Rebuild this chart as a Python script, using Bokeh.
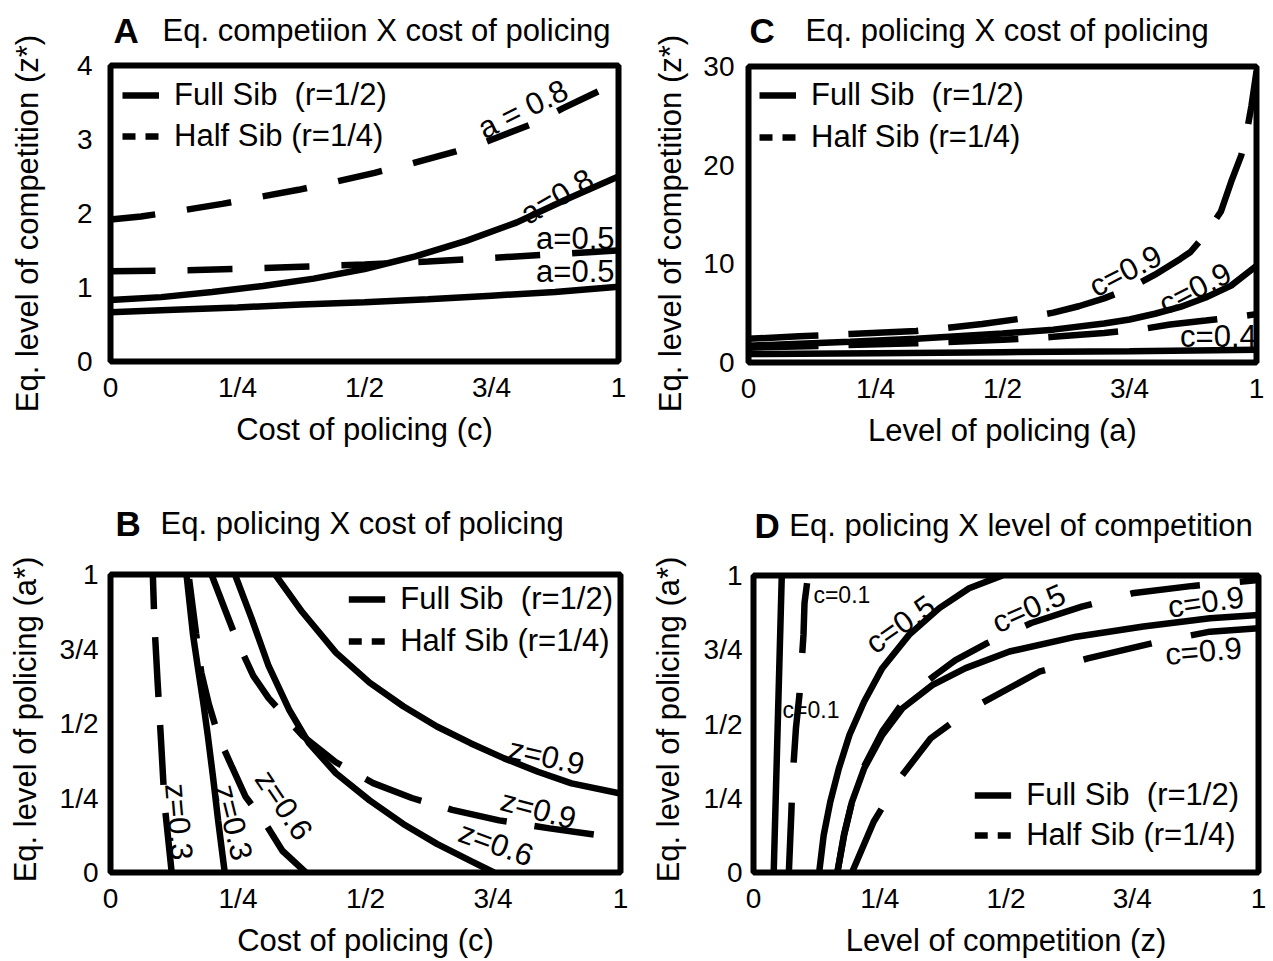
from bokeh.plotting import figure
from bokeh.models import Range1d, FixedTicker, Label, Legend, LegendItem
from bokeh.layouts import row, column
from bokeh.embed import file_html
from bokeh.resources import INLINE

FONT = "Liberation Sans"

# ---------------- data ----------------
frac_ticks = [0, 0.25, 0.5, 0.75, 1]
frac_labels = ["0", "1/4", "1/2", "3/4", "1"]

# Panel A : equilibrium competition z* vs cost of policing c
A_full_a08_c = [0, 0.1, 0.2, 0.3, 0.4, 0.5, 0.6, 0.7, 0.8, 0.9, 1.0]
A_full_a08_z = [0.83, 0.87, 0.94, 1.02, 1.12, 1.25, 1.42, 1.63, 1.88, 2.20, 2.50]
A_full_a05_c = [0, 0.125, 0.25, 0.375, 0.5, 0.625, 0.75, 0.875, 1.0]
A_full_a05_z = [0.665, 0.70, 0.73, 0.77, 0.80, 0.84, 0.89, 0.94, 1.01]
A_half_a08_c = [0, 0.06, 0.13, 0.22, 0.29, 0.37, 0.43, 0.52, 0.59, 0.68, 0.74, 0.83, 0.89, 1.0]
A_half_a08_z = [1.92, 1.96, 2.03, 2.13, 2.22, 2.32, 2.41, 2.55, 2.67, 2.84, 2.97, 3.21, 3.42, 3.78]
A_half_a05_c = [0, 0.125, 0.25, 0.375, 0.5, 0.625, 0.75, 0.875, 1.0]
A_half_a05_z = [1.22, 1.23, 1.25, 1.28, 1.31, 1.35, 1.40, 1.45, 1.50]
A_yticks = [0, 1, 2, 3, 4]

# Panel C : equilibrium competition z* vs level of policing a
C_full_c09_a = [0, 0.1, 0.2, 0.33, 0.5, 0.6, 0.7, 0.75, 0.8, 0.85, 0.9, 0.95, 1.0]
C_full_c09_z = [1.7, 1.9, 2.1, 2.4, 2.95, 3.33, 3.95, 4.36, 4.94, 5.63, 6.59, 7.79, 9.8]
C_full_c04_a = [0, 0.25, 0.5, 0.75, 1.0]
C_full_c04_z = [0.85, 0.95, 1.05, 1.15, 1.3]
C_half_c09_a = [0, 0.1, 0.2, 0.33, 0.39, 0.46, 0.53, 0.6, 0.65, 0.7, 0.75, 0.8, 0.85,
                0.87, 0.9, 0.93, 0.95, 0.97, 0.98, 0.99, 1.0]
C_half_c09_z = [2.4, 2.65, 2.9, 3.2, 3.5, 3.9, 4.4, 5.05, 5.7, 6.5, 7.5, 8.9, 10.5,
                11.2, 13.0, 15.3, 18.3, 21.0, 23.1, 26.0, 29.5]
C_half_c04_a = [0, 0.15, 0.33, 0.5, 0.6, 0.7, 0.77, 0.83, 0.9, 0.95, 1.0]
C_half_c04_z = [1.5, 1.7, 1.95, 2.3, 2.6, 3.0, 3.35, 3.85, 4.25, 4.55, 4.9]
C_yticks = [0, 10, 20, 30]

# Panel B : equilibrium policing a* vs cost of policing c
B_full_z03_c = [0.224, 0.211, 0.201, 0.191, 0.182, 0.172, 0.162, 0.149]
B_full_z03_a = [0, 0.175, 0.321, 0.457, 0.569, 0.68, 0.795, 1.0]
B_full_z06_c = [0.244, 0.277, 0.31, 0.35, 0.389, 0.442, 0.508, 0.574, 0.64, 0.706, 0.752]
B_full_z06_a = [1.0, 0.851, 0.693, 0.547, 0.434, 0.333, 0.242, 0.163, 0.096, 0.039, 0]
B_full_z09_c = [0.323, 0.376, 0.442, 0.508, 0.574, 0.64, 0.706, 0.772, 0.838, 0.904, 1.0]
B_full_z09_a = [1.0, 0.874, 0.738, 0.637, 0.558, 0.49, 0.434, 0.383, 0.338, 0.299, 0.265]
B_half_z03_c = [0.12, 0.106, 0.099, 0.092, 0.086, 0.083]
B_half_z03_a = [0, 0.23, 0.445, 0.65, 0.84, 1.0]
B_half_z06_c = [0.383, 0.337, 0.30, 0.265, 0.238, 0.213, 0.193, 0.178, 0.168, 0.153]
B_half_z06_a = [0, 0.073, 0.175, 0.254, 0.355, 0.45, 0.564, 0.671, 0.8, 1.0]
B_half_z09_c = [0.198, 0.225, 0.25, 0.28, 0.31, 0.376, 0.442, 0.515, 0.591, 0.67, 0.762,
                0.861, 0.957, 1.0]
B_half_z09_a = [1.0, 0.88, 0.77, 0.66, 0.585, 0.46, 0.37, 0.30, 0.25, 0.21, 0.175,
                0.148, 0.125, 0.115]

# Panel D : equilibrium policing a* vs level of competition z
D_full_c01_z = [0.040, 0.048, 0.056]
D_full_c01_a = [0, 0.5, 1.0]
D_full_c05_z = [0.13, 0.139, 0.152, 0.169, 0.19, 0.219, 0.255, 0.308, 0.368, 0.427, 0.493]
D_full_c05_a = [0, 0.126, 0.238, 0.35, 0.463, 0.575, 0.688, 0.8, 0.89, 0.957, 1.0]
D_full_c09_z = [0.166, 0.179, 0.195, 0.219, 0.255, 0.295, 0.354, 0.42, 0.507, 0.639,
                0.772, 0.904, 1.0]
D_full_c09_a = [0, 0.126, 0.238, 0.35, 0.463, 0.553, 0.631, 0.688, 0.744, 0.794,
                0.828, 0.856, 0.867]
D_half_c01_z = [0.070, 0.075, 0.077, 0.084, 0.091, 0.099, 0.101, 0.108]
D_half_c01_a = [0, 0.204, 0.306, 0.485, 0.598, 0.80, 0.907, 1.0]
D_half_c05_z = [0.166, 0.18, 0.196, 0.22, 0.255, 0.295, 0.33, 0.36, 0.40, 0.46, 0.55,
                0.65, 0.75, 0.87, 1.0]
D_half_c05_a = [0, 0.13, 0.245, 0.36, 0.475, 0.57, 0.625, 0.665, 0.715, 0.77, 0.84,
                0.895, 0.94, 0.965, 0.985]
D_half_c09_z = [0.195, 0.238, 0.291, 0.351, 0.427, 0.566, 0.662, 0.805, 0.904, 1.0]
D_half_c09_a = [0, 0.171, 0.32, 0.452, 0.547, 0.676, 0.721, 0.778, 0.811, 0.822]

LW = 6.5
NAN = float("nan")
TXT = "31px"


def make_panel(width, height, bl, br, bt, bb, ymax, yticks, ylabels, xlabel,
               y_std, x_std, x_lab_std):
    p = figure(width=width, height=height, x_range=Range1d(0, 1), y_range=Range1d(0, ymax),
               output_backend="svg", toolbar_location=None,
               min_border_left=bl, min_border_right=br, min_border_top=bt, min_border_bottom=bb)
    p.outline_line_color = "black"
    p.outline_line_width = 6
    p.outline_line_alpha = 1
    p.grid.visible = False
    p.background_fill_color = "white"
    p.border_fill_color = "white"
    p.xaxis.ticker = FixedTicker(ticks=frac_ticks)
    p.xaxis.major_label_overrides = {t: l for t, l in zip(frac_ticks, frac_labels)}
    p.yaxis.ticker = FixedTicker(ticks=yticks)
    p.yaxis.major_label_overrides = {t: l for t, l in zip(yticks, ylabels)}
    p.xaxis.axis_label = xlabel
    for ax in (p.xaxis[0], p.yaxis[0]):
        ax.axis_line_color = None
        ax.major_tick_line_color = None
        ax.minor_tick_line_color = None
        ax.major_tick_out = 0
        ax.major_tick_in = 0
        ax.major_label_text_font = FONT
        ax.major_label_text_font_size = "28px"
        ax.major_label_text_color = "black"
        ax.axis_label_text_font = FONT
        ax.axis_label_text_font_style = "normal"
        ax.axis_label_text_color = "black"
        ax.axis_label_text_font_size = TXT
    p.xaxis.major_label_standoff = x_std
    p.xaxis.axis_label_standoff = x_lab_std
    p.yaxis.major_label_standoff = y_std
    p.yaxis.major_label_orientation = "horizontal"
    return p


def blank(width, height, xspan):
    # axis-less figure; x range in pixels across its frame, y range in pixels
    t = figure(width=width, height=height, x_range=Range1d(0, xspan), y_range=Range1d(0, height),
               output_backend="svg", toolbar_location=None, x_axis_type=None, y_axis_type=None,
               min_border=0, min_border_left=0, min_border_right=0, min_border_top=0,
               min_border_bottom=0)
    t.outline_line_color = None
    t.grid.visible = False
    t.background_fill_color = "white"
    t.border_fill_color = "white"
    return t


def title_strip(width, height, frame_w, letter, text, lx, tx, cy):
    # the strip's frame is aligned with the panel frame below it, so x is measured
    # in pixels from the panel frame's left edge
    t = blank(width, height, frame_w)
    for s, x, size, style in ((letter, lx, "35px", "bold"), (text, tx, TXT, "normal")):
        t.add_layout(Label(x=x, y=height - cy, text=s, text_font=FONT, text_font_size=size,
                           text_font_style=style, text_align="left", text_baseline="middle",
                           text_color="black"))
    return t


def ylabel_strip(width, height, text, cx, cy):
    t = blank(width, height, width)
    t.add_layout(Label(x=cx, y=height - cy, text=text, angle=90, angle_units="deg",
                       text_font=FONT, text_font_size=TXT, text_align="center",
                       text_baseline="middle", text_color="black"))
    return t


def add_note(p, text, x, y, ang, size=TXT):
    p.add_layout(Label(x=x, y=y, text=text, angle=ang, angle_units="deg",
                       text_font=FONT, text_font_size=size, text_align="center",
                       text_baseline="middle", text_color="black"))


def add_legend(p, location, padding, spacing):
    r_full = p.line(x=[NAN], y=[NAN], line_width=LW, line_color="black")
    r_half = p.line(x=[NAN], y=[NAN], line_width=LW, line_color="black", line_dash="13 10")
    leg = Legend(items=[LegendItem(label="Full Sib  (r=1/2)", renderers=[r_full], index=0),
                        LegendItem(label="Half Sib (r=1/4)", renderers=[r_half], index=0)],
                 location=location, margin=0, padding=padding, spacing=spacing,
                 glyph_width=37, glyph_height=20, label_standoff=15,
                 label_text_font=FONT, label_text_font_size=TXT,
                 label_text_color="black",
                 background_fill_alpha=0, border_line_alpha=0)
    p.add_layout(leg)


def curve(p, x, y, dash=None):
    if dash:
        p.line(x, y, line_width=LW, line_color="black", line_dash=dash)
    else:
        p.line(x, y, line_width=LW, line_color="black")


# column geometry (page pixels): left label strip 0-56, left panel 56-634,
# right label strip 634-700, right panel 700-1270
YL_L, W_L = 56, 578
YL_R, W_R = 66, 570
H_TOP, HT1, HP1 = 470, 50, 420
H_BOT, HT2, HP2 = 490, 75, 415

YLAB1 = "Eq. level of competition (z*)"
YLAB2 = "Eq. level of policing (a*)"

# ---------------- Panel A ----------------
yA = ylabel_strip(YL_L, H_TOP, YLAB1, 27, 223)
tA = title_strip(W_L, HT1, 508, "A", "Eq. competiion X cost of policing", 3, 52, 30)
pA = make_panel(W_L, HP1, 54, 16, 15, 109, 4, A_yticks, [str(v) for v in A_yticks],
                "Cost of policing (c)", 18, 10, 6)
curve(pA, A_full_a05_c, A_full_a05_z)
curve(pA, A_full_a08_c, A_full_a08_z)
curve(pA, A_half_a05_c, A_half_a05_z, "45 32")
curve(pA, A_half_a08_c, A_half_a08_z, "45 32")
add_legend(pA, "top_left", 12, 5)
add_note(pA, "a = 0.8", 0.812, 3.41, 26)
add_note(pA, "a=0.8", 0.879, 2.23, 30)
add_note(pA, "a=0.5", 0.915, 1.66, 0)
add_note(pA, "a=0.5", 0.915, 1.22, 0)

# ---------------- Panel C ----------------
yC = ylabel_strip(YL_R, H_TOP, YLAB1, 36, 223)
tC = title_strip(W_R, HT1, 508, "C", "Eq. policing X cost of policing", 1, 57, 30)
pC = make_panel(W_R, HP1, 48, 14, 16, 108, 30, C_yticks, [str(v) for v in C_yticks],
                "Level of policing (a)", 14, 10, 6)
curve(pC, C_full_c04_a, C_full_c04_z)
curve(pC, C_full_c09_a, C_full_c09_z)
curve(pC, C_half_c04_a, C_half_c04_z, "70 30")
curve(pC, C_half_c09_a, C_half_c09_z, "70 30")
add_legend(pC, "top_left", 11, 6)
add_note(pC, "c=0.9", 0.742, 9.27, 27)
add_note(pC, "c=0.9", 0.879, 7.5, 27)
add_note(pC, "c=0.4", 0.925, 2.63, 0)

# ---------------- Panel B ----------------
yB = ylabel_strip(YL_L, H_BOT, YLAB2, 25, 249)
tB = title_strip(W_L, HT2, 510, "B", "Eq. policing X cost of policing", 5, 50, 53)
pB = make_panel(W_L, HP2, 54, 14, 29, 87, 1, frac_ticks, frac_labels,
                "Cost of policing (c)", 12, 10, 6)
curve(pB, B_full_z03_c, B_full_z03_a)
curve(pB, B_full_z06_c, B_full_z06_a)
curve(pB, B_full_z09_c, B_full_z09_a)
curve(pB, B_half_z03_c, B_half_z03_a, "60 28")
curve(pB, B_half_z06_c, B_half_z06_a, "60 28")
curve(pB, B_half_z09_c, B_half_z09_a, "60 28")
add_legend(pB, "top_right", 7, 6)
add_note(pB, "z=0.3", 0.134, 0.17, -85)
add_note(pB, "z=0.3", 0.241, 0.168, -76)
add_note(pB, "z=0.6", 0.34, 0.226, -56)
add_note(pB, "z=0.6", 0.756, 0.096, -20)
add_note(pB, "z=0.9", 0.839, 0.211, -15)
add_note(pB, "z=0.9", 0.855, 0.389, -13)

# ---------------- Panel D ----------------
yD = ylabel_strip(YL_R, H_BOT, YLAB2, 34, 249)
tD = title_strip(W_R, HT2, 508, "D", "Eq. policing X level of competition", 1, 36, 55)
pD = make_panel(W_R, HP2, 50, 12, 30, 85, 1, frac_ticks, frac_labels,
                "Level of competition (z)", 11, 10, 6)
curve(pD, D_full_c01_z, D_full_c01_a)
curve(pD, D_full_c05_z, D_full_c05_a)
curve(pD, D_full_c09_z, D_full_c09_a)
curve(pD, D_half_c01_z, D_half_c01_a, "70 40")
curve(pD, D_half_c05_z, D_half_c05_a, "70 40")
curve(pD, D_half_c09_z, D_half_c09_a, "70 40")
add_legend(pD, "bottom_right", 19, 4)
add_note(pD, "c=0.1", 0.175, 0.934, 0, "23px")
add_note(pD, "c=0.1", 0.114, 0.546, 0, "23px")
add_note(pD, "c=0.5", 0.291, 0.835, 35)
add_note(pD, "c=0.5", 0.545, 0.889, 24)
add_note(pD, "c=0.9", 0.896, 0.911, 8)
add_note(pD, "c=0.9", 0.891, 0.745, 5)

layout = column(
    row(yA, column(tA, pA, spacing=0), yC, column(tC, pC, spacing=0), spacing=0),
    row(yB, column(tB, pB, spacing=0), yD, column(tD, pD, spacing=0), spacing=0),
    spacing=0,
)

with open("out.html", "w") as f:
    f.write(file_html(layout, INLINE))
